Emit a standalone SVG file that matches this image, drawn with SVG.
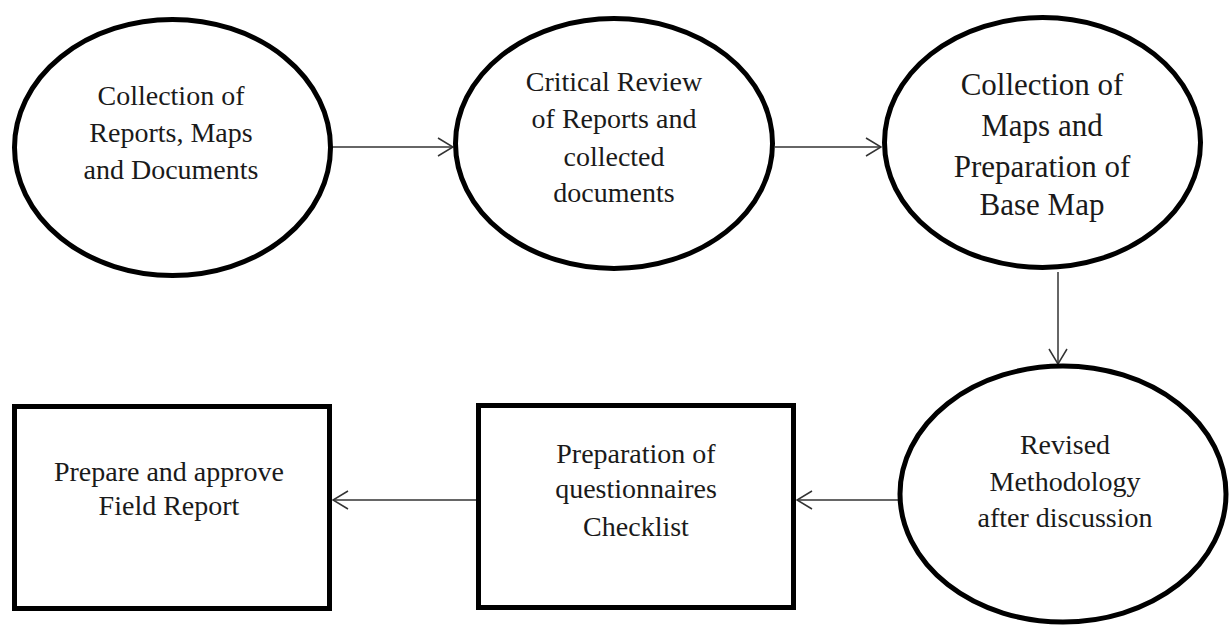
<svg xmlns="http://www.w3.org/2000/svg" width="1232" height="626" viewBox="0 0 1232 626">
  <style>
    .shape { fill: #ffffff; stroke: #000000; stroke-width: 5; }
    .label { font-family: "Liberation Serif", "Times New Roman", serif; font-size: 28px; fill: #1a1a1a; text-anchor: middle; }
    .label-lg { font-size: 31px; }
    .edge { fill: none; stroke: #333333; stroke-width: 1.5; }
  </style>
  <defs>
    <marker id="chevron" viewBox="0 0 17 20" refX="16" refY="10" markerWidth="17" markerHeight="20" markerUnits="userSpaceOnUse" orient="auto">
      <path d="M1,1 L16,10 L1,19" fill="none" stroke="#333333" stroke-width="1.5"/>
    </marker>
  </defs>
  <rect width="1232" height="626" fill="#ffffff"/>

  <!-- connectors -->
  <g id="connectors">
    <line class="edge" x1="332" y1="147" x2="453" y2="147" marker-end="url(#chevron)"/>
    <line class="edge" x1="775" y1="147" x2="881" y2="147" marker-end="url(#chevron)"/>
    <line class="edge" x1="1058" y1="272" x2="1058" y2="364" marker-end="url(#chevron)"/>
    <line class="edge" x1="899" y1="500" x2="797" y2="500" marker-end="url(#chevron)"/>
    <line class="edge" x1="476" y1="500" x2="333" y2="500" marker-end="url(#chevron)"/>
  </g>

  <!-- step 1 -->
  <g id="collect-reports">
    <ellipse class="shape" cx="172.5" cy="147.5" rx="158" ry="128"/>
    <text class="label" x="171" y="105">Collection of</text>
    <text class="label" x="171" y="142">Reports, Maps</text>
    <text class="label" x="171" y="179">and Documents</text>
  </g>

  <!-- step 2 -->
  <g id="critical-review">
    <ellipse class="shape" cx="614" cy="143.5" rx="158.5" ry="125"/>
    <text class="label" x="614" y="91">Critical Review</text>
    <text class="label" x="614" y="128">of Reports and</text>
    <text class="label" x="614" y="166">collected</text>
    <text class="label" x="614" y="202">documents</text>
  </g>

  <!-- step 3 -->
  <g id="base-map">
    <ellipse class="shape" cx="1042.5" cy="142.5" rx="158" ry="125"/>
    <text class="label label-lg" x="1042" y="95">Collection of</text>
    <text class="label label-lg" x="1042" y="136">Maps and</text>
    <text class="label label-lg" x="1042" y="177">Preparation of</text>
    <text class="label label-lg" x="1042" y="215">Base Map</text>
  </g>

  <!-- step 4 -->
  <g id="revised-methodology">
    <ellipse class="shape" cx="1063" cy="494" rx="163" ry="128"/>
    <text class="label" x="1065" y="454">Revised</text>
    <text class="label" x="1065" y="491">Methodology</text>
    <text class="label" x="1065" y="527">after discussion</text>
  </g>

  <!-- step 5 -->
  <g id="questionnaires">
    <rect class="shape" x="478.5" y="405.5" width="315" height="202"/>
    <text class="label" x="636" y="463">Preparation of</text>
    <text class="label" x="636" y="498">questionnaires</text>
    <text class="label" x="636" y="536">Checklist</text>
  </g>

  <!-- step 6 -->
  <g id="field-report">
    <rect class="shape" x="14.5" y="406.5" width="315" height="202"/>
    <text class="label" x="169" y="481">Prepare and approve</text>
    <text class="label" x="169" y="515">Field Report</text>
  </g>
</svg>
